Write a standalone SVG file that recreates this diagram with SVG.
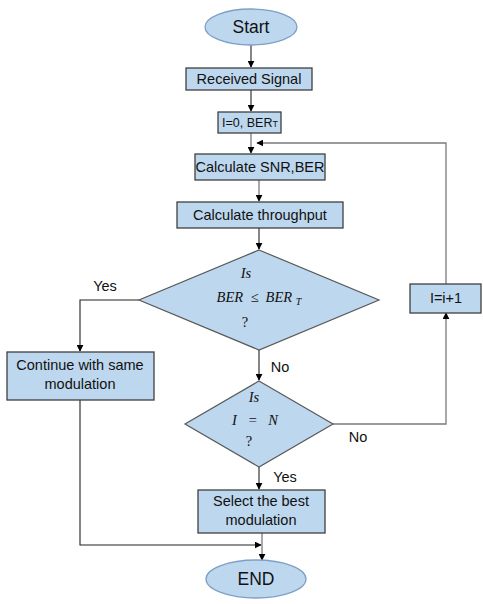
<svg xmlns="http://www.w3.org/2000/svg" width="483" height="604" viewBox="0 0 483 604">
<defs>
<marker id="ah" viewBox="0 0 10 10" refX="9" refY="5" markerWidth="7" markerHeight="7" markerUnits="userSpaceOnUse" orient="auto">
<path d="M0,0 L10,5 L0,10 z" fill="#000"/>
</marker>
<style>
.box{fill:#bdd7ee;stroke:#404040;stroke-width:1.3}
.ell{fill:#bdd7ee;stroke:#7f9fc6;stroke-width:1.3}
.dia{fill:#bdd7ee;stroke:#595959;stroke-width:1.2}
.t{font-family:"Liberation Sans",Arial,sans-serif;font-size:14.5px;fill:#111;text-anchor:middle}
.big{font-size:17.5px}
.m{font-family:"Liberation Serif","Times New Roman",serif;font-style:italic;font-size:14.5px;fill:#111;text-anchor:middle}
.q{font-style:normal}
.c{fill:none;stroke:#7a7a7a;stroke-width:1.3}
.k{fill:none;stroke:#222;stroke-width:1.1}
</style>
</defs>
<rect width="483" height="604" fill="#fff"/>
<g id="connectors">
<path class="k" d="M251,45 V67" marker-end="url(#ah)"/>
<path class="k" d="M251,90 V111" marker-end="url(#ah)"/>
<path class="c" d="M251,133 V153" marker-end="url(#ah)"/>
<path class="c" d="M446,284 V143 H257" marker-end="url(#ah)"/>
<path class="c" d="M259,180 V201" marker-end="url(#ah)"/>
<path class="k" d="M259,228 V249" marker-end="url(#ah)"/>
<path class="k" d="M139,300 H80 V351" marker-end="url(#ah)"/>
<path class="k" d="M259,350 V380" marker-end="url(#ah)"/>
<path class="c" d="M333,424 H446 V313" marker-end="url(#ah)"/>
<path class="k" d="M259,467 V489" marker-end="url(#ah)"/>
<path class="k" d="M80,400 V545 H261" marker-end="url(#ah)"/>
<path class="c" d="M262,533 V560" marker-end="url(#ah)"/>
<text class="t" x="105" y="291">Yes</text>
<text class="t" x="280" y="372">No</text>
<text class="t" x="358" y="442">No</text>
<text class="t" x="285" y="482">Yes</text>
</g>
<g id="start">
<ellipse class="ell" cx="251" cy="27" rx="46" ry="18"/>
<text class="t big" x="251" y="33">Start</text>
</g>
<g id="received">
<rect class="box" x="186" y="68" width="126" height="22"/>
<text class="t" x="249" y="84">Received  Signal</text>
</g>
<g id="init">
<rect class="box" x="218" y="112" width="63" height="21"/>
<text class="t" x="250" y="127" style="font-size:12.5px">I=0, BER<tspan style="font-size:9px">T</tspan></text>
</g>
<g id="calcsnr">
<rect class="box" x="195" y="154" width="130" height="26"/>
<text class="t" x="260" y="172">Calculate SNR,BER</text>
</g>
<g id="calcthr">
<rect class="box" x="177" y="202" width="166" height="26"/>
<text class="t" x="260" y="220">Calculate throughput</text>
</g>
<g id="dec1">
<polygon class="dia" points="259,250 379,300 259,350 139,300"/>
<text class="m" x="246" y="278">Is</text>
<text class="m" x="259" y="302" xml:space="preserve">BER  ≤  BER <tspan style="font-size:10px" dy="3">T</tspan></text>
<text class="m q" x="245" y="327">?</text>
</g>
<g id="continue">
<rect class="box" x="7" y="352" width="147" height="48"/>
<text class="t" x="80" y="370">Continue with same</text>
<text class="t" x="80" y="389">modulation</text>
</g>
<g id="dec2">
<polygon class="dia" points="259,381 333,424 259,467 185,424"/>
<text class="m" x="254" y="402">Is</text>
<text class="m" x="255" y="425" xml:space="preserve">I   =   N</text>
<text class="m q" x="249" y="446">?</text>
</g>
<g id="incr">
<rect class="box" x="410" y="284" width="71" height="29"/>
<text class="t" x="446" y="303">I=i+1</text>
</g>
<g id="select">
<rect class="box" x="198" y="490" width="127" height="43"/>
<text class="t" x="261" y="506">Select the best</text>
<text class="t" x="261" y="525">modulation</text>
</g>
<g id="end">
<ellipse class="ell" cx="256" cy="579" rx="50" ry="19"/>
<text class="t big" x="256" y="585">END</text>
</g>
</svg>
